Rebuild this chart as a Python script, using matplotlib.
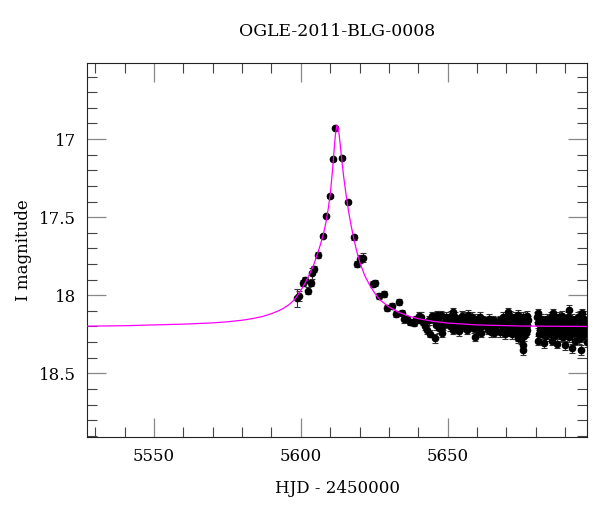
import matplotlib
matplotlib.use("Agg")
import matplotlib.pyplot as plt
from matplotlib.ticker import MultipleLocator

# model light curve
model_t = [5527, 5540, 5550, 5560, 5570, 5575, 5580, 5584, 5587, 5590, 5592,
           5594, 5596, 5597.5, 5598.6, 5600, 5601.5, 5603, 5604.3, 5605.5,
           5606.6, 5607.7, 5608.6, 5609.4, 5610.1, 5610.8, 5611.3, 5611.8,
           5612.3, 5612.8, 5613.4, 5614, 5614.6, 5615.3, 5616.2, 5617, 5617.9,
           5619, 5620.2, 5621.8, 5623.6, 5625.3, 5627, 5630, 5633.2, 5637,
           5640, 5645, 5650, 5660, 5675, 5698]
model_mag = [18.198, 18.195, 18.19, 18.185, 18.177, 18.17, 18.16, 18.148,
             18.136, 18.118, 18.103, 18.085, 18.06, 18.035, 18.01, 17.97,
             17.92, 17.865, 17.81, 17.745, 17.68, 17.61, 17.53, 17.44, 17.34,
             17.2, 17.08, 16.97, 16.91, 16.93, 17.03, 17.14, 17.24, 17.34,
             17.455, 17.54, 17.625, 17.715, 17.795, 17.875, 17.94, 17.99,
             18.03, 18.075, 18.108, 18.135, 18.15, 18.167, 18.178, 18.19,
             18.197, 18.2]

# OGLE photometry: rise, peak and early decline
hjd = [5598.6, 5599.4, 5600.7, 5601.5, 5602.6, 5603.4, 5603.7, 5604.6, 5605.7,
       5607.7, 5608.6, 5609.8, 5610.8, 5611.7, 5614.0, 5616.0, 5618.2, 5619.1,
       5620.0, 5621.1, 5624.5, 5625.3, 5626.7, 5628.4, 5629.3, 5631.0, 5632.5,
       5633.5, 5634.4, 5635.2, 5636.1, 5637.2, 5638.4, 5639.3, 5640.1, 5640.6,
       5641.5, 5642.3, 5643.1, 5644.0, 5644.8, 5645.2, 5645.7, 5646.3, 5646.8,
       5647.7, 5648.0, 5648.4, 5649.0]
mag = [18.02, 18.005, 17.92, 17.90, 17.97, 17.92, 17.86, 17.83, 17.74,
       17.62, 17.49, 17.365, 17.13, 16.93, 17.12, 17.40, 17.63, 17.80,
       17.77, 17.76, 17.93, 17.92, 18.005, 17.99, 18.08, 18.07, 18.12,
       18.045, 18.115, 18.155, 18.15, 18.17, 18.18, 18.155, 18.13, 18.16,
       18.17, 18.20, 18.225, 18.245, 18.13, 18.155, 18.275, 18.125, 18.16,
       18.125, 18.24, 18.20, 18.17]
err = [0.058, 0.03, 0.02, 0.02, 0.02, 0.02, 0.035, 0.02, 0.02,
       0.015, 0.012, 0.012, 0.01, 0.008, 0.01, 0.012, 0.015, 0.02,
       0.025, 0.03, 0.02, 0.02, 0.02, 0.02, 0.02, 0.02, 0.02,
       0.02, 0.02, 0.02, 0.02, 0.02, 0.02, 0.02, 0.02, 0.02,
       0.02, 0.02, 0.025, 0.025, 0.025, 0.025, 0.03, 0.025, 0.025,
       0.025, 0.025, 0.025, 0.025]

# OGLE photometry: baseline
hjd_tail = [5641.0, 5643.6, 5646.0, 5647.2, 5649.4,
            5650.5, 5650.9, 5651.3, 5651.7, 5652.0, 5652.2, 5652.6, 5653.1,
            5653.4, 5653.7, 5654.0, 5654.5, 5654.8, 5655.1, 5655.4, 5655.8,
            5656.0, 5656.5, 5656.9, 5657.1, 5657.4, 5657.8, 5658.2, 5658.6,
            5658.9, 5659.4, 5659.6, 5659.9, 5660.3, 5660.8, 5661.0, 5661.3,
            5661.6, 5662.0, 5662.3, 5663.2, 5663.6, 5664.0, 5664.2, 5664.5,
            5664.7, 5665.0, 5665.3, 5665.7, 5666.0, 5666.4, 5667.9, 5667.9,
            5668.4, 5669.0, 5669.5, 5669.8, 5670.2, 5670.5, 5670.7, 5670.9,
            5671.0, 5671.2, 5671.5, 5671.8, 5672.0, 5672.2, 5672.4, 5672.6,
            5672.8, 5673.0, 5673.3, 5673.5, 5673.6, 5673.8, 5674.1, 5674.1,
            5674.3, 5674.5, 5674.7, 5674.9, 5675.0, 5675.2, 5675.3, 5675.5,
            5675.6, 5675.8, 5675.8, 5676.0, 5676.2, 5676.4, 5676.6, 5676.9,
            5677.0, 5677.1, 5677.3, 5680.6, 5680.9, 5680.9, 5680.9, 5681.1,
            5681.3, 5681.5, 5681.8, 5682.0, 5682.3, 5682.6, 5682.9, 5683.0,
            5683.4, 5683.6, 5683.8, 5684.4, 5684.6, 5684.9, 5685.1, 5685.3,
            5685.5, 5685.8, 5686.0, 5686.2, 5686.4, 5686.7, 5687.0, 5687.2,
            5687.4, 5687.6, 5687.9, 5688.0, 5688.2, 5688.5, 5688.7, 5689.0,
            5689.2, 5689.4, 5689.6, 5689.8, 5690.0, 5690.2, 5690.5, 5690.7,
            5691.0, 5691.2, 5691.5, 5691.7, 5691.9, 5692.1, 5692.3, 5692.5,
            5692.8, 5693.0, 5693.2, 5693.4, 5693.7, 5693.9, 5694.2, 5694.4,
            5694.6, 5694.8, 5695.0, 5695.2, 5695.4, 5695.7, 5695.9, 5696.1,
            5696.3, 5696.5, 5696.7, 5696.9, 5697.1, 5697.3, 5697.5]
mag_tail = [18.14, 18.16, 18.19, 18.21, 18.14,
            18.15, 18.20, 18.13, 18.22, 18.11, 18.18, 18.14, 18.16,
            18.19, 18.21, 18.23, 18.17, 18.13, 18.20, 18.14, 18.16,
            18.19, 18.22, 18.15, 18.125, 18.17, 18.20, 18.14, 18.165,
            18.21, 18.265, 18.19, 18.15, 18.22, 18.17, 18.14, 18.24,
            18.20, 18.16, 18.18, 18.17, 18.22, 18.19, 18.15, 18.20,
            18.235, 18.19, 18.16, 18.24, 18.21, 18.17, 18.16, 18.235,
            18.20, 18.14, 18.25, 18.18, 18.23, 18.14, 18.11, 18.17,
            18.20, 18.13, 18.22, 18.16, 18.25, 18.19, 18.22, 18.15,
            18.18, 18.14, 18.23, 18.17, 18.20, 18.26, 18.125, 18.275,
            18.15, 18.20, 18.23, 18.28, 18.17, 18.19, 18.24, 18.14,
            18.21, 18.32, 18.35, 18.26, 18.16, 18.19, 18.24, 18.22,
            18.19, 18.13, 18.16, 18.14, 18.115, 18.18, 18.29, 18.25,
            18.22, 18.19, 18.15, 18.21, 18.25, 18.16, 18.305, 18.24,
            18.19, 18.26, 18.15, 18.17, 18.23, 18.20, 18.14, 18.25,
            18.29, 18.21, 18.115, 18.26, 18.17, 18.19, 18.15, 18.31,
            18.25, 18.22, 18.20, 18.14, 18.17, 18.26, 18.22, 18.13,
            18.18, 18.27, 18.20, 18.16, 18.32, 18.21, 18.24, 18.18,
            18.14, 18.095, 18.27, 18.22, 18.17, 18.25, 18.34, 18.15,
            18.21, 18.19, 18.24, 18.29, 18.16, 18.21, 18.24, 18.14,
            18.28, 18.19, 18.17, 18.22, 18.35, 18.115, 18.20, 18.26,
            18.15, 18.21, 18.24, 18.18, 18.19, 18.30, 18.23]

plt.rcParams['font.family'] = ['DejaVu Serif']
plt.rcParams['font.size'] = 12

fig = plt.figure(figsize=(6, 5.12), dpi=100)
ax = fig.add_axes([0.1455, 0.147, 0.8335, 0.7305])

ax.plot(model_t, model_mag, color='#ff00ff', lw=0.9, zorder=3)
ax.errorbar(hjd, mag, yerr=err, fmt='o', color='black', ms=4.5,
            ecolor='#333333', elinewidth=0.8, capsize=2.5, capthick=0.8,
            zorder=2)
ax.errorbar(hjd_tail, mag_tail, yerr=0.03, fmt='o', color='black', ms=4.5,
            ecolor='#333333', elinewidth=0.8, capsize=2.5, capthick=0.8,
            zorder=2)

ax.set_xlim(5527.3, 5697.6)
ax.set_ylim(18.906, 16.511)
ax.xaxis.set_major_locator(MultipleLocator(50))
ax.xaxis.set_minor_locator(MultipleLocator(10))
ax.yaxis.set_major_locator(MultipleLocator(0.5))
ax.yaxis.set_minor_locator(MultipleLocator(0.1))
ax.yaxis.set_major_formatter(plt.FuncFormatter(lambda v, p: f"{v:g}"))
ax.tick_params(which='both', direction='in', top=True, right=True)
ax.tick_params(which='major', length=13.5, width=0.9, color='#888888', pad=8)
ax.tick_params(which='minor', length=7, width=0.8, color='#444444')
for s in ax.spines.values():
    s.set_color('#222222')
    s.set_linewidth(0.8)

ax.set_title("OGLE-2011-BLG-0008", fontsize=12.4, pad=19)
ax.set_xlabel("HJD - 2450000", labelpad=11)
ax.set_ylabel("I magnitude", labelpad=5)

plt.savefig("out.png")
